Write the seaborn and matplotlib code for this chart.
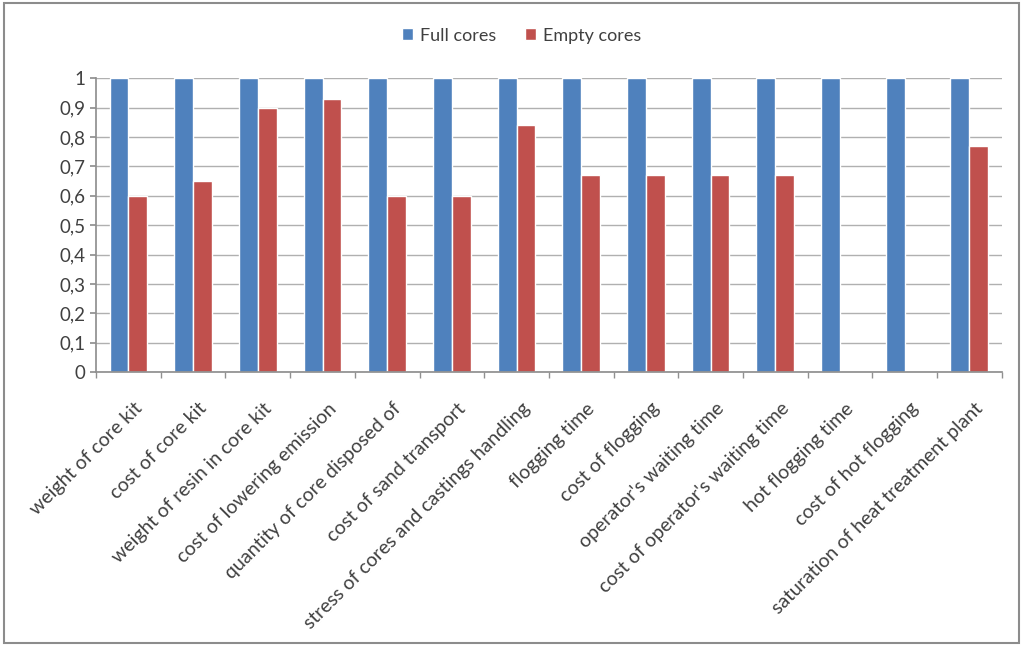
import pandas as pd
import matplotlib.pyplot as plt
from matplotlib.patches import Rectangle
from matplotlib.ticker import FuncFormatter, FixedLocator
from matplotlib.transforms import ScaledTranslation
import seaborn as sns

sns.set_theme(style='white')
plt.rcParams['font.family'] = ['Lato', 'DejaVu Sans']

# --- data
categories = ['weight of core kit', 'cost of core kit', 'weight of resin in core kit',
              'cost of lowering emission', 'quantity of core disposed of',
              'cost of sand transport', 'stress of cores and castings handling',
              'flogging time', 'cost of flogging', "operator's waiting time",
              "cost of operator's waiting time", 'hot flogging time',
              'cost of hot flogging', 'saturation of heat treatment plant']
full_cores = [1, 1, 1, 1, 1, 1, 1, 1, 1, 1, 1, 1, 1, 1]
empty_cores = [0.6, 0.65, 0.9, 0.93, 0.6, 0.6, 0.84, 0.67, 0.67, 0.67, 0.67, 0, 0, 0.77]
series = ['Full cores', 'Empty cores']
colors = ['#4F81BD', '#C0504D']

df = pd.DataFrame({'category': categories * 2,
                   'value': full_cores + empty_cores,
                   'series': [series[0]] * len(categories) + [series[1]] * len(categories)})

fig = plt.figure(figsize=(10.23, 6.46), dpi=100)
ax = fig.add_axes([0.094, 0.424, 0.885, 0.455])

sns.barplot(data=df, x='category', y='value', hue='series', hue_order=series,
            palette=colors, width=0.58, gap=0, saturation=1, ax=ax)

ax.set_ylim(0, 1)
ax.set_xlim(-0.5, len(categories) - 0.5)
ax.set_yticks([i / 10 for i in range(11)])
ax.yaxis.set_major_formatter(FuncFormatter(lambda v, p: ('%.1f' % v).replace('.', ',') if v not in (0, 1) else '%d' % v))
ax.yaxis.grid(True, color='#b0b0b0', linewidth=1)
ax.set_axisbelow(True)
ax.tick_params(axis='y', labelsize=13.5, colors='#404040', length=4, color='#909090', left=True)
ax.tick_params(axis='x', labelsize=14, labelcolor='#404040', length=0, pad=20)

# --- category boundary ticks
ax.xaxis.set_minor_locator(FixedLocator([i - 0.5 for i in range(len(categories) + 1)]))
ax.tick_params(axis='x', which='minor', bottom=True, length=4, color='#909090')
shift = ScaledTranslation(5 / 100, 0, fig.dpi_scale_trans)
for lab in ax.get_xticklabels():
    lab.set_rotation(45)
    lab.set_ha('right')
    lab.set_rotation_mode('anchor')
    lab.set_transform(lab.get_transform() + shift)

for side in ['top', 'right']:
    ax.spines[side].set_visible(False)
for side in ['left', 'bottom']:
    ax.spines[side].set_color('#909090')

ax.set_xlabel('')
ax.set_ylabel('')
ax.legend(loc='center', bbox_to_anchor=(0.51, 0.945), bbox_transform=fig.transFigure,
          ncol=2, frameon=False, fontsize=13, handlelength=0.6, handleheight=0.6,
          handletextpad=0.4, columnspacing=1.6, labelcolor='#404040')

# --- outer frame
fig.patches.append(Rectangle((0.004, 0.005), 0.992, 0.99, transform=fig.transFigure,
                             fill=False, edgecolor='#8c8c8c', linewidth=1.5))

plt.savefig('out.png', dpi=100)
plt.close(fig)
